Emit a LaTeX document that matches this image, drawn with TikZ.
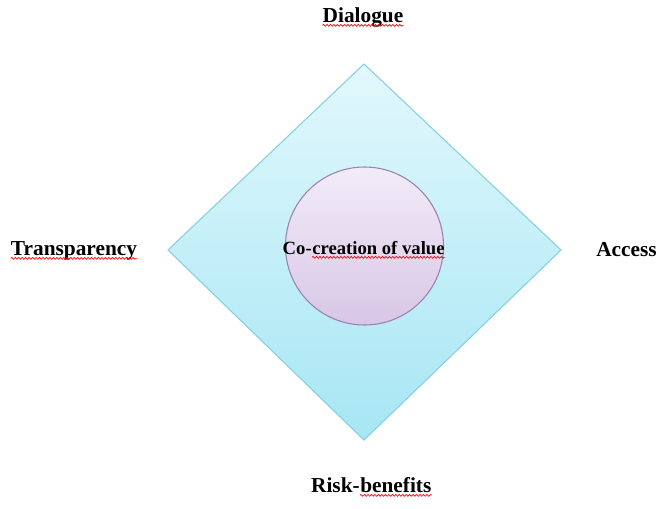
\documentclass[tikz,border=0pt]{standalone}
\usepackage{fontspec}
\setmainfont{Liberation Serif}
\usetikzlibrary{decorations.pathmorphing}

\definecolor{diamondtop}{HTML}{E2F8FC}
\definecolor{diamondbot}{HTML}{A6E6F4}
\definecolor{diamondline}{HTML}{86D0E2}
\definecolor{circtop}{HTML}{F2ECF8}
\definecolor{circbot}{HTML}{D8C6E6}
\definecolor{circline}{HTML}{9A82B4}

\tikzset{lbl/.style={font=\fontsize{16}{19}\selectfont\bfseries, inner sep=0pt, anchor=base},
  midlbl/.style={font=\fontsize{14}{17}\selectfont\bfseries, inner sep=0pt},
  spell/.style={red, line width=0.5pt, decorate, decoration={snake, amplitude=0.7pt, segment length=2.6pt}}}

\begin{document}
\begin{tikzpicture}[x=0.75pt,y=-0.75pt]
\useasboundingbox (0,0) rectangle (667,508);

% diamond and circle
\shade[top color=diamondtop,bottom color=diamondbot,draw=diamondline,line width=0.8pt] (364,64)--(561,250)--(364,440)--(168,250)--cycle;
\shade[top color=circtop,bottom color=circbot,draw=circline,line width=0.8pt] (364.5,246) circle (59.25pt);

% labels
\node[lbl] (dialogue) at (363,22) {Dialogue};
\node[lbl] (transparency) at (74,255) {Transparency};
\node[lbl] (access) at (626.5,256) {Access};
\node[lbl, anchor=base east] (risk) at (360,492) {Risk-};
\node[lbl, anchor=base west] (benefits) at (risk.base east) {benefits};
\node[midlbl, anchor=base east] (co) at (312,254) {Co-};
\node[midlbl, anchor=base west] (creation) at (co.base east) {creation of value};

% spell marks
\draw[spell] ([yshift=-2.5pt]dialogue.base west) -- ([yshift=-2.5pt]dialogue.base east);
\draw[spell] ([yshift=-2.5pt]transparency.base west) -- ([yshift=-2.5pt]transparency.base east);
\draw[spell] ([yshift=-2.5pt]benefits.base west) -- ([yshift=-2.5pt]benefits.base east);
\draw[spell] ([yshift=-2.5pt]creation.base west) -- ([yshift=-2.5pt]creation.base east);
\end{tikzpicture}
\end{document}
